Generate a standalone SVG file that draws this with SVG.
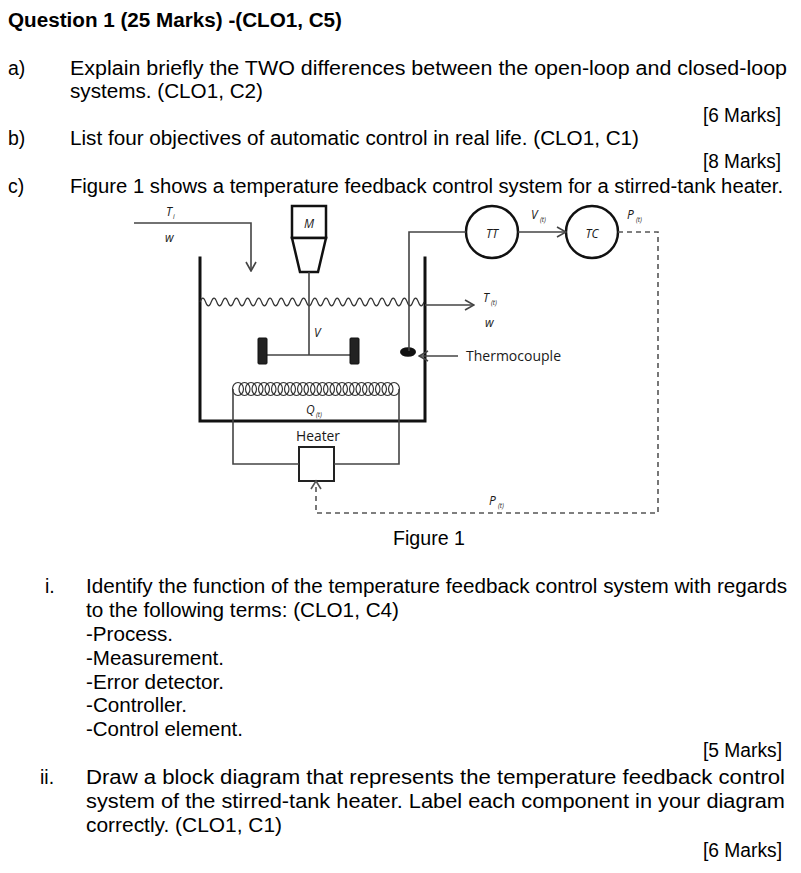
<svg xmlns="http://www.w3.org/2000/svg" width="801" height="873" viewBox="0 0 801 873">
<defs>
<style>
.t{font-family:"Liberation Sans",Arial,sans-serif;font-size:19.5px;fill:#000}
.tb{font-family:"Liberation Sans",Arial,sans-serif;font-size:19.5px;font-weight:bold;fill:#000}
.lab{font-family:"Open Sans","Noto Sans",sans-serif;font-style:italic;font-size:12px;fill:#1a1a1a}
.sub{font-family:"Open Sans","Noto Sans",sans-serif;font-style:italic;font-size:6.5px;fill:#1a1a1a}
.cap{font-family:"Open Sans","Noto Sans",sans-serif;font-size:14.5px;fill:#1a1a1a}
.wall{fill:none;stroke:#111;stroke-width:3;stroke-linecap:square}
.ln{fill:none;stroke:#444;stroke-width:1.6}
.thick{fill:#fff;stroke:#111;stroke-width:2.5}
.dash{fill:none;stroke:#555;stroke-width:1.6;stroke-dasharray:5,4}
.coil{fill:none;stroke:#333;stroke-width:1.2}
</style>
<marker id="arr" viewBox="0 0 12 12" refX="11" refY="6" markerWidth="12" markerHeight="12" markerUnits="userSpaceOnUse" orient="auto">
<path d="M2,1 L11,6 L2,11" fill="none" stroke="#444" stroke-width="1.6"/>
</marker>
</defs>
<rect width="801" height="873" fill="#fff"/>

<g id="text">
<text class="tb" x="8" y="27" textLength="334" lengthAdjust="spacingAndGlyphs">Question 1 (25 Marks) -(CLO1, C5)</text>
<text class="t" x="8" y="75">a)</text>
<text class="t" x="70" y="75" textLength="717" lengthAdjust="spacingAndGlyphs">Explain briefly the TWO differences between the open-loop and closed-loop</text>
<text class="t" x="70" y="98" textLength="193" lengthAdjust="spacingAndGlyphs">systems. (CLO1, C2)</text>
<text class="t" x="703" y="122" textLength="78" lengthAdjust="spacingAndGlyphs">[6 Marks]</text>
<text class="t" x="8" y="145">b)</text>
<text class="t" x="70" y="145" textLength="569" lengthAdjust="spacingAndGlyphs">List four objectives of automatic control in real life. (CLO1, C1)</text>
<text class="t" x="703" y="168" textLength="78" lengthAdjust="spacingAndGlyphs">[8 Marks]</text>
<text class="t" x="8" y="193">c)</text>
<text class="t" x="70" y="193" textLength="713" lengthAdjust="spacingAndGlyphs">Figure 1 shows a temperature feedback control system for a stirred-tank heater.</text>

<text class="t" x="393" y="545" textLength="72" lengthAdjust="spacingAndGlyphs">Figure 1</text>

<text class="t" x="45" y="593">i.</text>
<text class="t" x="86" y="593" textLength="701" lengthAdjust="spacingAndGlyphs">Identify the function of the temperature feedback control system with regards</text>
<text class="t" x="86" y="617" textLength="313" lengthAdjust="spacingAndGlyphs">to the following terms: (CLO1, C4)</text>
<text class="t" x="86" y="641" textLength="87" lengthAdjust="spacingAndGlyphs">-Process.</text>
<text class="t" x="86" y="665" textLength="138" lengthAdjust="spacingAndGlyphs">-Measurement.</text>
<text class="t" x="86" y="689" textLength="138" lengthAdjust="spacingAndGlyphs">-Error detector.</text>
<text class="t" x="86" y="712" textLength="101" lengthAdjust="spacingAndGlyphs">-Controller.</text>
<text class="t" x="86" y="736" textLength="157" lengthAdjust="spacingAndGlyphs">-Control element.</text>
<text class="t" x="703" y="757" textLength="79" lengthAdjust="spacingAndGlyphs">[5 Marks]</text>
<text class="t" x="40" y="784">ii.</text>
<text class="t" x="86" y="784" textLength="699" lengthAdjust="spacingAndGlyphs">Draw a block diagram that represents the temperature feedback control</text>
<text class="t" x="86" y="808" textLength="699" lengthAdjust="spacingAndGlyphs">system of the stirred-tank heater. Label each component in your diagram</text>
<text class="t" x="86" y="832" textLength="196" lengthAdjust="spacingAndGlyphs">correctly. (CLO1, C1)</text>
<text class="t" x="703" y="857" textLength="79" lengthAdjust="spacingAndGlyphs">[6 Marks]</text>
</g>

<g id="tank">
<path class="wall" d="M200,258 V421 H425 V258"/>
<path fill="none" stroke="#333" stroke-width="1.2" d="M200,302 c1.9,-5.3 3.7,-5.3 5.6,0 c1.9,5.3 3.7,5.3 5.6,0 c1.9,-5.3 3.7,-5.3 5.6,0 c1.9,5.3 3.7,5.3 5.6,0 c1.9,-5.3 3.7,-5.3 5.6,0 c1.9,5.3 3.7,5.3 5.6,0 c1.9,-5.3 3.7,-5.3 5.6,0 c1.9,5.3 3.7,5.3 5.6,0 c1.9,-5.3 3.7,-5.3 5.6,0 c1.9,5.3 3.7,5.3 5.6,0 c1.9,-5.3 3.7,-5.3 5.6,0 c1.9,5.3 3.7,5.3 5.6,0 c1.9,-5.3 3.7,-5.3 5.6,0 c1.9,5.3 3.7,5.3 5.6,0 c1.9,-5.3 3.7,-5.3 5.6,0 c1.9,5.3 3.7,5.3 5.6,0 c1.9,-5.3 3.7,-5.3 5.6,0 c1.9,5.3 3.7,5.3 5.6,0 c1.9,-5.3 3.7,-5.3 5.6,0 c1.9,5.3 3.7,5.3 5.6,0 c1.9,-5.3 3.7,-5.3 5.6,0 c1.9,5.3 3.7,5.3 5.6,0 c1.9,-5.3 3.7,-5.3 5.6,0 c1.9,5.3 3.7,5.3 5.6,0 c1.9,-5.3 3.7,-5.3 5.6,0 c1.9,5.3 3.7,5.3 5.6,0 c1.9,-5.3 3.7,-5.3 5.6,0 c1.9,5.3 3.7,5.3 5.6,0 c1.9,-5.3 3.7,-5.3 5.6,0 c1.9,5.3 3.7,5.3 5.6,0 c1.9,-5.3 3.7,-5.3 5.6,0 c1.9,5.3 3.7,5.3 5.6,0 c1.9,-5.3 3.7,-5.3 5.6,0 c1.9,5.3 3.7,5.3 5.6,0 c1.9,-5.3 3.7,-5.3 5.6,0 c1.9,5.3 3.7,5.3 5.6,0 c1.9,-5.3 3.7,-5.3 5.6,0 c1.9,5.3 3.7,5.3 5.6,0 c1.9,-5.3 3.7,-5.3 5.6,0 c1.9,5.3 3.7,5.3 5.6,0"/>
</g>

<g id="inlet">
<text class="lab" x="166" y="216">T</text>
<text class="sub" x="173" y="219">i</text>
<text class="lab" x="165" y="242">w</text>
</g>

<g id="motor">
<rect class="thick" x="292" y="206" width="34" height="32"/>
<path class="thick" d="M292,238 H326 L318,272 H300 Z"/>
<text class="lab" x="309" y="228" text-anchor="middle" font-size="13">M</text>
</g>

<g id="agitator">
<path class="ln" d="M309,272 V355 M267,355 H350"/>
<rect x="258" y="338" width="9" height="26" rx="1" fill="#222" stroke="#111"/>
<rect x="350" y="338" width="9" height="26" rx="1" fill="#222" stroke="#111"/>
<text class="lab" x="314" y="337" font-size="13">V</text>
</g>

<g id="thermocouple">
<ellipse cx="408" cy="352" rx="8" ry="4.8" fill="#111"/>
<text class="cap" x="466" y="361" textLength="95" lengthAdjust="spacingAndGlyphs">Thermocouple</text>
</g>

<g id="TT">
<circle class="thick" cx="492" cy="232" r="26"/>
<text class="lab" x="492" y="238" text-anchor="middle" font-size="14">TT</text>
</g>

<g id="TC">
<circle class="thick" cx="592" cy="232" r="26"/>
<text class="lab" x="592" y="238" text-anchor="middle" font-size="14">TC</text>
</g>

<g id="coil">
<g class="coil">
<ellipse cx="238" cy="389" rx="5.5" ry="6.5"/><ellipse cx="244.5" cy="389" rx="5.5" ry="6.5"/><ellipse cx="251" cy="389" rx="5.5" ry="6.5"/><ellipse cx="257.5" cy="389" rx="5.5" ry="6.5"/><ellipse cx="264" cy="389" rx="5.5" ry="6.5"/><ellipse cx="270.5" cy="389" rx="5.5" ry="6.5"/><ellipse cx="277" cy="389" rx="5.5" ry="6.5"/><ellipse cx="283.5" cy="389" rx="5.5" ry="6.5"/><ellipse cx="290" cy="389" rx="5.5" ry="6.5"/><ellipse cx="296.5" cy="389" rx="5.5" ry="6.5"/><ellipse cx="303" cy="389" rx="5.5" ry="6.5"/><ellipse cx="309.5" cy="389" rx="5.5" ry="6.5"/><ellipse cx="316" cy="389" rx="5.5" ry="6.5"/><ellipse cx="322.5" cy="389" rx="5.5" ry="6.5"/><ellipse cx="329" cy="389" rx="5.5" ry="6.5"/><ellipse cx="335.5" cy="389" rx="5.5" ry="6.5"/><ellipse cx="342" cy="389" rx="5.5" ry="6.5"/><ellipse cx="348.5" cy="389" rx="5.5" ry="6.5"/><ellipse cx="355" cy="389" rx="5.5" ry="6.5"/><ellipse cx="361.5" cy="389" rx="5.5" ry="6.5"/><ellipse cx="368" cy="389" rx="5.5" ry="6.5"/><ellipse cx="374.5" cy="389" rx="5.5" ry="6.5"/><ellipse cx="381" cy="389" rx="5.5" ry="6.5"/><ellipse cx="387.5" cy="389" rx="5.5" ry="6.5"/><ellipse cx="394" cy="389" rx="5.5" ry="6.5"/>
</g>
<text class="lab" x="306" y="414">Q</text>
<text class="sub" x="316" y="417">(t)</text>
</g>

<g id="heater">
<rect x="299" y="447" width="35" height="34" fill="#fff" stroke="#222" stroke-width="2"/>
<text class="cap" x="296" y="441" textLength="44" lengthAdjust="spacingAndGlyphs">Heater</text>
</g>

<g id="connectors">
<path class="ln" d="M134,223 H251 V271" marker-end="url(#arr)"/>
<path class="ln" d="M409,351 V232 H466"/>
<path class="ln" d="M518,232 H566" marker-end="url(#arr)"/>
<path class="ln" d="M425,305 H474" marker-end="url(#arr)"/>
<path class="ln" d="M458,356 H419" marker-end="url(#arr)"/>
<path class="ln" d="M233,389 V464 H299 M334,464 H399 V389"/>
<path class="dash" d="M618,232 H658 V513 H316 V483"/>
<path d="M311,489 L316,481 L321,489" fill="none" stroke="#555" stroke-width="1.6"/>
</g>

<g id="signal-labels">
<text class="lab" x="531" y="219">V</text>
<text class="sub" x="540" y="222">(t)</text>
<text class="lab" x="627" y="219">P</text>
<text class="sub" x="636" y="222">(t)</text>
<text class="lab" x="483" y="302">T</text>
<text class="sub" x="491" y="305">(t)</text>
<text class="lab" x="485" y="327">w</text>
<text class="lab" x="489" y="505">P</text>
<text class="sub" x="498" y="508">(t)</text>
</g>
</svg>
